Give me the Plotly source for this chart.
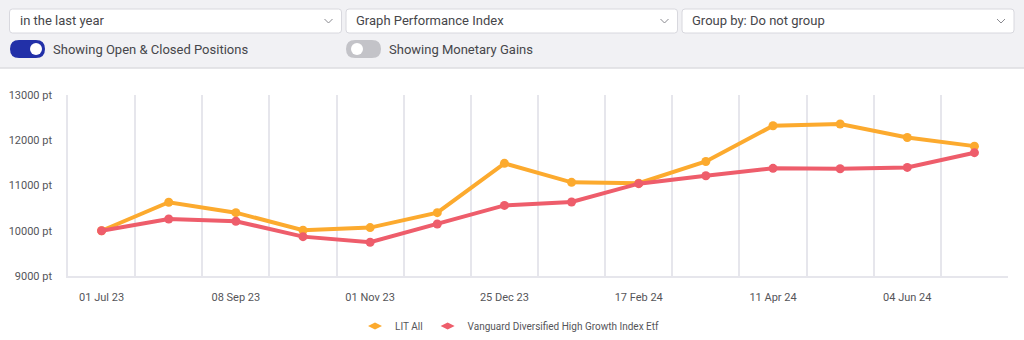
import plotly.graph_objects as go

# Sampling dates (evenly spaced on the chart) and index values
dates = ["01 Jul 23", "04 Aug 23", "08 Sep 23", "05 Oct 23", "01 Nov 23", "28 Nov 23",
         "25 Dec 23", "21 Jan 24", "17 Feb 24", "15 Mar 24", "11 Apr 24", "08 May 24",
         "04 Jun 24", "01 Jul 24"]
lit_all = [10000, 10630, 10400, 10010, 10070, 10400, 11490, 11070, 11050, 11530,
           12320, 12360, 12060, 11870]
vanguard = [10000, 10260, 10210, 9870, 9745, 10150, 10560, 10635, 11040, 11215,
            11380, 11370, 11400, 11725]
series_names = ["LIT All", "Vanguard Diversified High Growth Index Etf"]
y_ticks = [9000, 10000, 11000, 12000, 13000]

dropdown_labels = ["in the last year", "Graph Performance Index", "Group by: Do not group"]
toggle_labels = ["Showing Open & Closed Positions", "Showing Monetary Gains"]

ORANGE = "#fcaa2e"
RED = "#ee5d6b"
GRID = "#e6e6ec"
TEXT = "#555559"
FONT = "Roboto"

W, H = 1024, 340
L, R, T, B = 68, 1008, 95, 276


def px(x):
    return (x - L) / (R - L)


def py(y):
    return (B - y) / (B - T)


idx = list(range(len(dates)))
series = [(series_names[0], lit_all, ORANGE), (series_names[1], vanguard, RED)]

fig = go.Figure()
for name, values, color in series:
    fig.add_trace(go.Scatter(x=idx, y=values, name=name, legendgroup=name, showlegend=False,
                             mode="lines+markers", line=dict(color=color, width=4),
                             marker=dict(size=9, color=color)))
# Compact legend swatches
for name, values, color in series:
    fig.add_trace(go.Scatter(x=[None], y=[None], name=name, legendgroup=name, mode="markers",
                             marker=dict(symbol="diamond-wide", size=10, color=color)))

shapes = []
annotations = []

# Control panel background
shapes.append(dict(type="rect", xref="paper", yref="paper", x0=px(0), x1=px(W), y0=py(68), y1=py(0),
                   fillcolor="#f1f1f4", line=dict(width=0), layer="below"))
shapes.append(dict(type="line", xref="paper", yref="paper", x0=px(0), x1=px(W), y0=py(68), y1=py(68),
                   line=dict(color="#dcdce1", width=1.5)))


def rounded_rect(x0, y0, x1, y1, r):
    X0, X1 = px(x0), px(x1)
    Y0, Y1 = py(y0), py(y1)
    rx = r / (R - L)
    ry = r / (B - T)
    return (f"M {X0 + rx},{Y0} L {X1 - rx},{Y0} Q {X1},{Y0} {X1},{Y0 - ry} "
            f"L {X1},{Y1 + ry} Q {X1},{Y1} {X1 - rx},{Y1} L {X0 + rx},{Y1} "
            f"Q {X0},{Y1} {X0},{Y1 + ry} L {X0},{Y0 - ry} Q {X0},{Y0} {X0 + rx},{Y0} Z")


# Dropdown boxes with chevrons
boxes = [(9.5, 341.5), (346, 677.5), (682, 1014)]
for (bx0, bx1), label in zip(boxes, dropdown_labels):
    shapes.append(dict(type="path", xref="paper", yref="paper", path=rounded_rect(bx0, 9, bx1, 33, 3),
                       fillcolor="white", line=dict(color="#d8d8de", width=1)))
    cx = bx1 - 13
    shapes.append(dict(type="path", xref="paper", yref="paper",
                       path=f"M {px(cx - 4)},{py(19)} L {px(cx)},{py(23)} L {px(cx + 4)},{py(19)}",
                       line=dict(color="#8a8a90", width=1)))
    annotations.append(dict(x=px(bx0 + 8), y=py(21), xref="paper", yref="paper", text=label,
                            showarrow=False, xanchor="left", yanchor="middle",
                            font=dict(family=FONT, size=13, color="#46464a")))

# Toggle switches
toggles = [(10, "#2230a8", 36, toggle_labels[0]), (346, "#c3c3c8", 357, toggle_labels[1])]
for tx, tcol, knob, label in toggles:
    shapes.append(dict(type="path", xref="paper", yref="paper", path=rounded_rect(tx, 40, tx + 35, 58, 9),
                       fillcolor=tcol, line=dict(width=0)))
    shapes.append(dict(type="circle", xref="paper", yref="paper", x0=px(knob - 6), x1=px(knob + 6),
                       y0=py(55), y1=py(43), fillcolor="white", line=dict(width=0)))
    annotations.append(dict(x=px(tx + 41), y=py(49), xref="paper", yref="paper", text=label,
                            showarrow=False, xanchor="left", yanchor="middle",
                            font=dict(family=FONT, size=13, color="#46464a")))

fig.update_layout(
    width=W, height=H,
    margin=dict(l=L, r=W - R, t=T, b=H - B, pad=0, autoexpand=False),
    paper_bgcolor="white", plot_bgcolor="white",
    font=dict(family=FONT, size=11, color=TEXT),
    shapes=shapes, annotations=annotations,
    showlegend=True,
    legend=dict(orientation="h", x=px(510), xanchor="center", y=py(326), yanchor="middle",
                font=dict(family=FONT, size=10, color=TEXT), itemwidth=30,
                bgcolor="rgba(0,0,0,0)"),
    xaxis=dict(range=[-0.5, len(dates) - 0.5], tickmode="array", tickvals=idx[::2],
               ticktext=dates[::2], showgrid=False, zeroline=False, showline=True,
               linecolor=GRID, linewidth=1.5, ticks="", ticklabelstandoff=10,
               minor=dict(tickmode="array", tickvals=[i - 0.5 for i in range(len(dates) + 1)],
                          showgrid=True, gridcolor=GRID, gridwidth=1.5, ticks="")),
    yaxis=dict(range=[y_ticks[0], y_ticks[-1]], tickmode="array", tickvals=y_ticks,
               ticktext=[f"{v} pt" for v in y_ticks], showgrid=False, zeroline=False,
               showline=True, linecolor=GRID, linewidth=1.5, ticks="", ticklabelstandoff=12),
)

fig.write_html("out.html")
